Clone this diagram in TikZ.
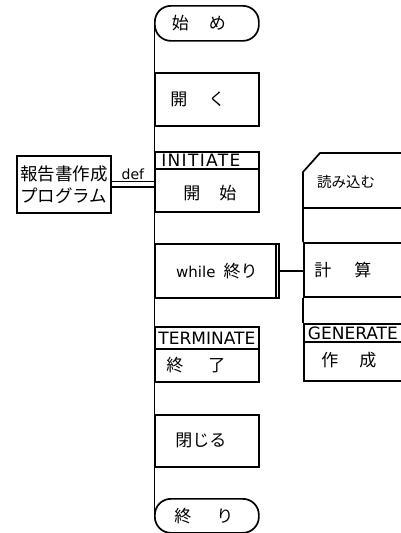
\documentclass[tikz,border=0pt]{standalone}
\usepackage{fontspec}
\newfontfamily\jp{Noto Sans CJK JP}
\newfontfamily\lt{DejaVu Sans}
\newfontfamily\ltw[LetterSpace=8]{DejaVu Sans}
\usetikzlibrary{backgrounds}
\begin{document}
\begin{tikzpicture}[x=1pt,y=-1pt, line width=1.7pt,
  box/.style={draw, rectangle, inner sep=0pt, anchor=north west, fill=white},
  term/.style={box, rounded corners=16pt},
  jtext/.style={font=\jp\fontsize{17}{19}\selectfont},
  jsmall/.style={font=\jp\fontsize{14.5}{16}\selectfont},
  ltext/.style={font=\lt\fontsize{17}{19}\selectfont},
  lsmall/.style={font=\lt\fontsize{14}{16}\selectfont},
]
\useasboundingbox (0,0) rectangle (401,533);

% left column
\node[term, minimum width=104pt, minimum height=35pt,
  label={[jtext, xshift=-8pt]center:{始\hspace{20pt}め}}] (start) at (154,5) {};
\node[box, minimum width=104pt, minimum height=53pt,
  label={[jtext, xshift=-9pt]center:{開\hspace{21pt}く}}] (open) at (154,72) {};
\node[box, minimum width=104pt, minimum height=17pt,
  label={[font=\ltw\fontsize{17}{19}\selectfont, xshift=-6pt]center:{INITIATE}}] (inith) at (154,151) {};
\node[box, minimum width=104pt, minimum height=43pt,
  label={[jtext, xshift=3pt, yshift=-3pt]center:{開\hspace{19pt}始}}] (initb) at (154,168) {};
\node[box, minimum width=124pt, minimum height=54pt,
  label={[jtext]center:{{\lt\fontsize{15}{17}\selectfont while}\hspace{8pt}終り}}] (while) at (154,243) {};
\draw ([xshift=-4pt]while.north east) -- ([xshift=-4pt]while.south east);
\node[box, minimum width=104pt, minimum height=22pt,
  label={[ltext]center:{TERMINATE}}] (termh) at (154,326) {};
\node[box, minimum width=104pt, minimum height=33pt,
  label={[jtext, xshift=-11pt]center:{終\hspace{25pt}了}}] (termb) at (154,348) {};
\node[box, minimum width=104pt, minimum height=52pt,
  label={[jtext, xshift=-6pt]center:{閉じる}}] (close) at (154,414) {};
\node[term, minimum width=104pt, minimum height=34pt,
  label={[jtext, xshift=-3pt]center:{終\hspace{25pt}り}}] (end) at (154,498) {};

\begin{scope}[on background layer]
  \draw (start.west) -- (end.west);
\end{scope}

% program box
\node[box, minimum width=94pt, minimum height=57pt, align=left,
  font=\jp\fontsize{17.5}{22}\selectfont] (prog) at (16,155) {報告書作成\\プログラム};
\draw ([yshift=3pt]prog.east) -- ([yshift=3pt]prog.east -| initb.west)
  node[midway, above, inner sep=1pt, lsmall] (def) {def};
\draw ([yshift=-2.5pt]prog.east) -- ([yshift=-2.5pt]prog.east -| initb.west);

% right column
\draw (410,153) -- (320,153) -- (303,172) -- (303,242);
\draw (303,208) -- (410,208);
\node[jsmall] (read) at (346,182) {読み込む};
\node[box, minimum width=110pt, minimum height=54pt,
  label={[jtext, xshift=-16pt]center:{計\hspace{23pt}算}}] (calc) at (303,242) {};
\draw (calc.south west) -- (303,323);
\node[box, minimum width=110pt, minimum height=18pt,
  label={[ltext, xshift=-6pt]center:{GENERATE}}] (genh) at (303,323) {};
\node[box, minimum width=110pt, minimum height=39pt,
  label={[jtext, xshift=-10pt, yshift=1pt]center:{作\hspace{21pt}成}}] (genb) at (303,341) {};

\draw (while.east) -- (while.east -| calc.west);
\end{tikzpicture}
\end{document}
